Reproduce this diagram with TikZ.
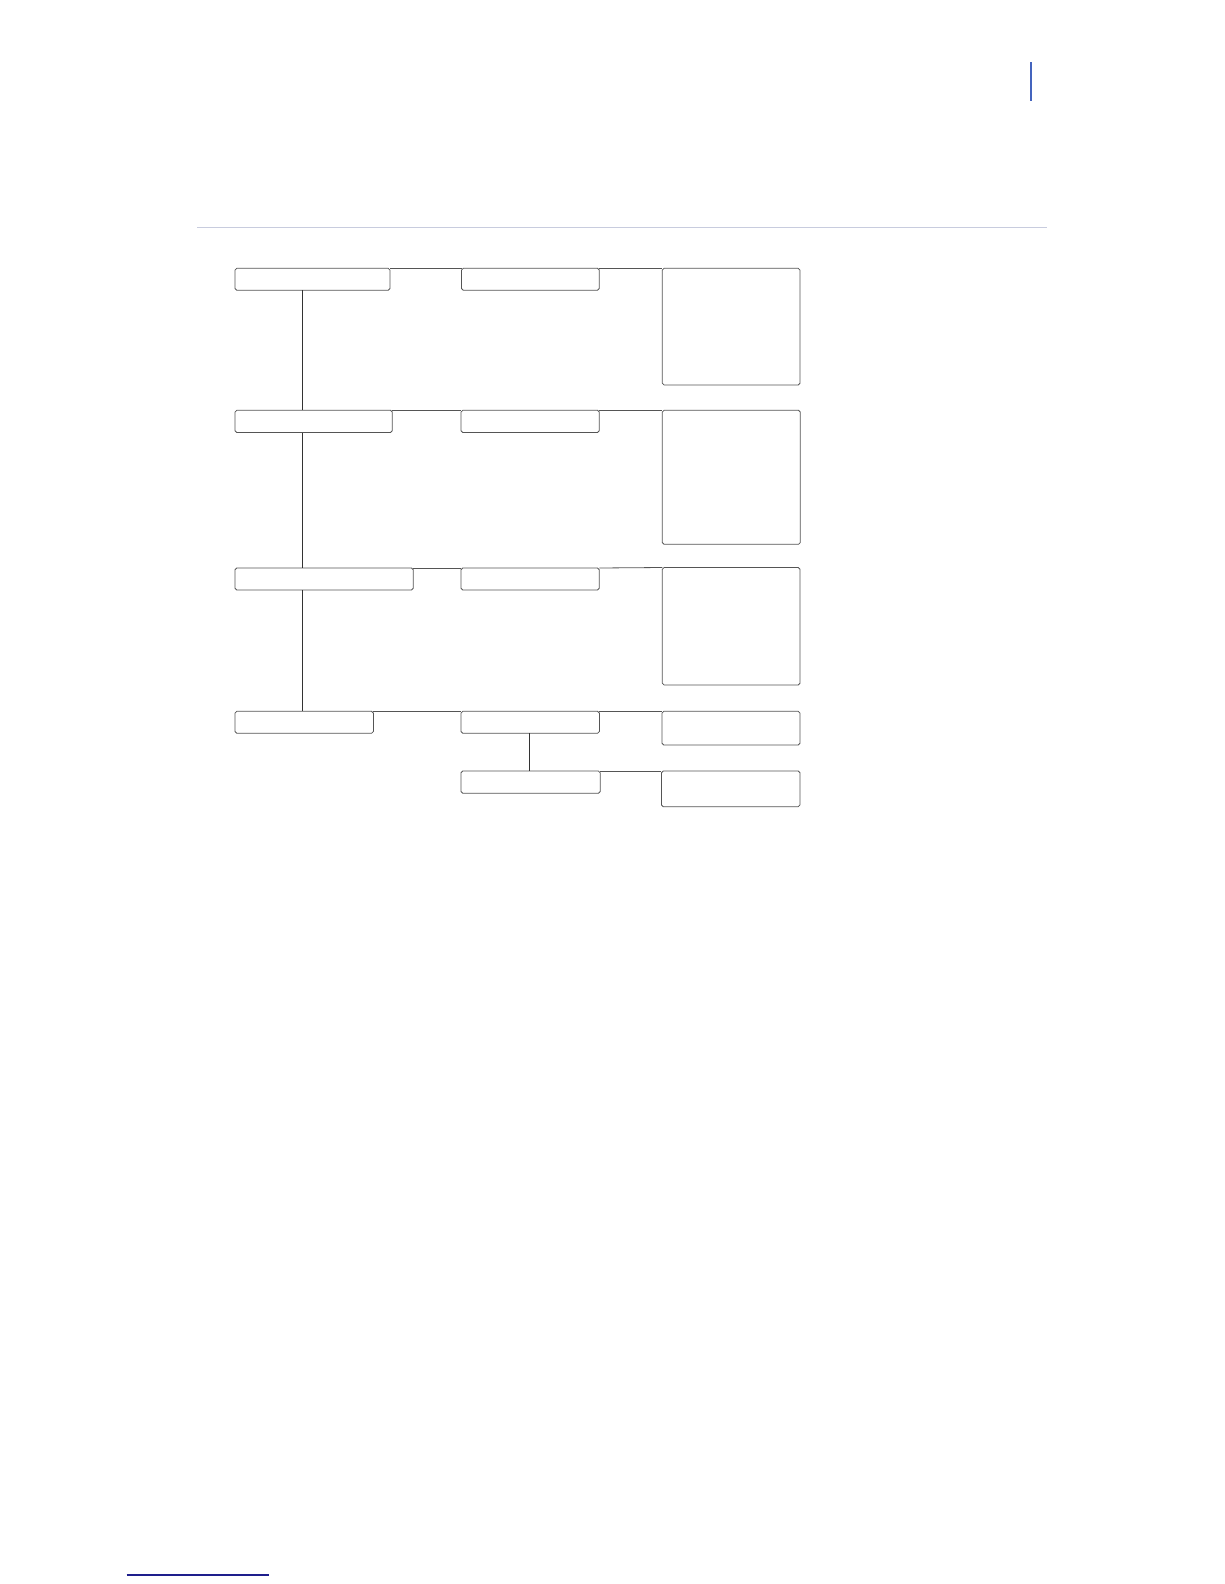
\documentclass[tikz,border=0pt]{standalone}
\usetikzlibrary{calc}
\definecolor{rulegray}{RGB}{200,204,222}
\definecolor{barblue}{RGB}{68,100,190}
\definecolor{navy}{RGB}{30,30,140}
\definecolor{boxline}{RGB}{85,85,85}
\tikzset{
  px/.style={x=1pt,y=-1pt},
  box/.style={draw=boxline, line width=0.8pt, rounded corners=1.8pt, inner sep=0pt, outer sep=0pt, anchor=north west, fill=white},
  conn/.style={draw=black!80, line width=0.8pt},
  hconn/.style={draw=boxline, line width=0.8pt}
}
\newcommand{\bx}[5]{\node[box, minimum width=#4pt, minimum height=#5pt] (#1) at (#2,#3) {};}
\begin{document}
\begin{tikzpicture}[px]
\useasboundingbox (0,0) rectangle (1224,1584);
\fill[white] (0,0) rectangle (1224,1584);
% header / footer
\draw[rulegray, line width=1pt] (197,227.3) -- (1047,227.3);
\draw[barblue, line width=2pt] (1030.7,62.3) -- (1030.7,100.7);
\draw[navy, line width=1.5pt] (126.7,1575) -- (269,1575);
% boxes
\bx{A1}{235}{268.3}{155}{22}
\bx{B1}{461.5}{268.3}{137.8}{22}
\bx{C1}{662.3}{268.3}{137.7}{116.7}
\bx{A2}{235}{410.3}{157.3}{22.2}
\bx{B2}{461}{410.3}{138.3}{22.2}
\bx{C2}{662.3}{410.3}{138}{134}
\bx{A3}{235}{568}{178.3}{22}
\bx{B3}{461}{568}{138.3}{22}
\bx{C3}{662.3}{567.5}{137.7}{117.5}
\bx{A4}{235}{711.3}{138.4}{22}
\bx{B4}{461}{711.3}{138.4}{22}
\bx{C4}{662}{711.3}{138}{33.7}
\bx{B5}{461}{771}{139.2}{22.3}
\bx{C5}{661.4}{771}{138.6}{35.7}
% trunk coordinates
\coordinate (t) at (302.3,0);
\coordinate (u) at (529.4,0);
% vertical connectors
\draw[conn] (t |- A1.south) -- (t |- A2.north);
\draw[conn] (t |- A2.south) -- (t |- A3.north);
\draw[conn] (t |- A3.south) -- (t |- A4.north);
\draw[conn] (u |- B4.south) -- (u |- B5.north);
% horizontal connectors
\foreach \r in {1,2,3,4}{
  \draw[hconn] (A\r.north east) -- (B\r.north west);
  \draw[hconn] (B\r.north east) -- (C\r.north west);
}
\draw[hconn] (B5.north east) -- (C5.north west);
\end{tikzpicture}
\end{document}
